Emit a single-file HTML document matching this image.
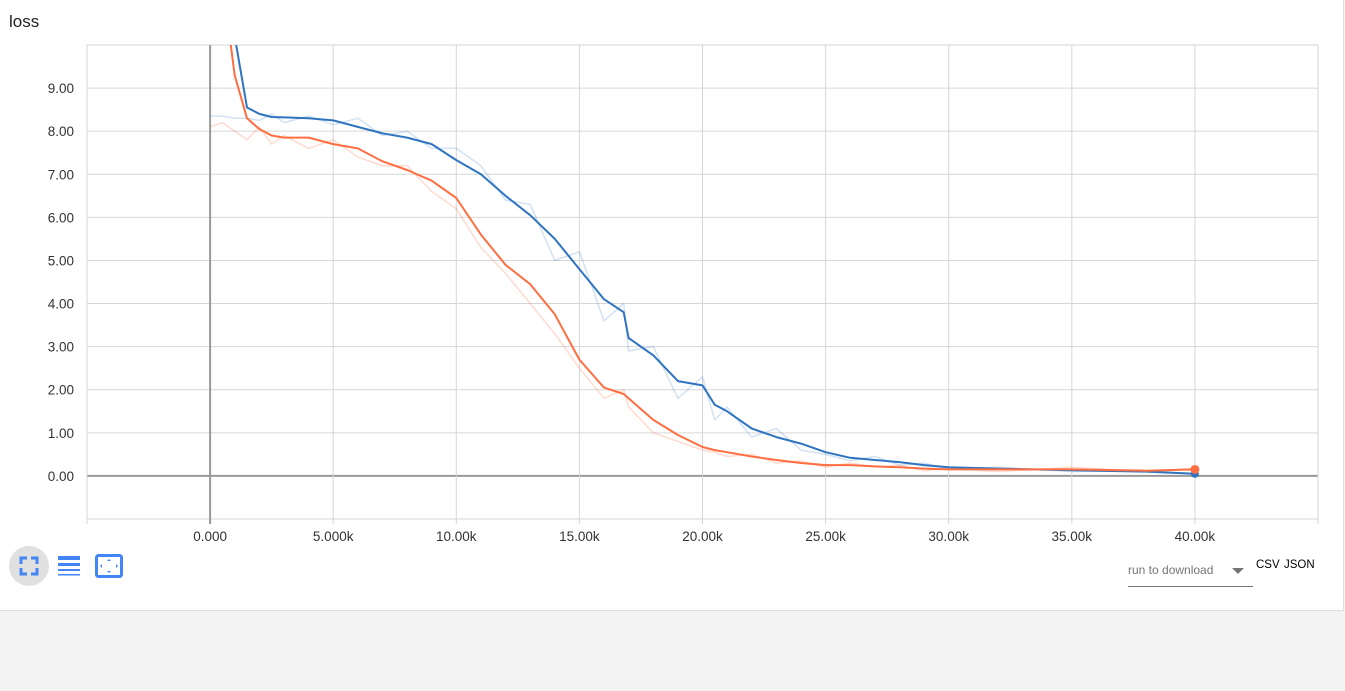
<!DOCTYPE html>
<html><head><meta charset="utf-8">
<style>
body{margin:0;width:1345px;height:691px;background:#f3f3f3;font-family:"Liberation Sans",sans-serif;overflow:hidden;position:relative}
#card{position:absolute;left:0;top:0;width:1343px;height:610px;background:#fff;border-right:1px solid #ddd;border-bottom:1px solid #ddd}
#title{position:absolute;left:9px;top:12px;font-size:17px;color:#212121}
svg text{font-family:"Liberation Sans",sans-serif;font-size:13.5px;fill:#333}
.btn{position:absolute}
</style></head><body>
<div id="card">
<div id="title">loss</div>
<svg id="chart" width="1345" height="610" style="position:absolute;left:0;top:0"></svg>
<div class="btn" style="left:9px;top:546px;width:40px;height:40px;border-radius:50%;background:#e0e0e0">
<svg width="40" height="40"><g stroke="#4285f4" stroke-width="3" fill="none"><path d="M12 18V12H18M22 12H28V18M28 22V28H22M18 28H12V22"/></g></svg></div>
<div class="btn" style="left:57px;top:555px;width:24px;height:22px">
<svg width="24" height="22"><rect x="1" y="1" width="22" height="4" fill="#4285f4"/><rect x="1" y="8" width="22" height="3" fill="#4285f4"/><rect x="1" y="14" width="22" height="2" fill="#4285f4"/><rect x="1" y="19" width="22" height="1.5" fill="#4285f4"/></svg></div>
<div class="btn" style="left:95px;top:554px;width:28px;height:24px">
<svg width="28" height="24"><rect x="1.5" y="1.5" width="25" height="21" rx="2" fill="none" stroke="#4285f4" stroke-width="3"/><path d="M14 5l-2 2h4zM14 19l-2-2h4zM5 12l2-2v4zM23 12l-2-2v4z" fill="#4285f4"/></svg></div>
<div style="position:absolute;left:1128px;top:563px;width:125px;height:23px;border-bottom:1px solid #757575;font-size:12px;color:#757575">run to download<span style="position:absolute;left:104px;top:5px;width:0;height:0;border-left:6px solid transparent;border-right:6px solid transparent;border-top:6px solid #757575"></span></div>
<div style="position:absolute;left:1256px;top:559px;font-size:11.5px;color:#000">CSV</div>
<div style="position:absolute;left:1284px;top:559px;font-size:11.5px;color:#000">JSON</div>
</div>
<script>
const steps=[0,500,1000,1500,2000,2500,3000,4000,5000,6000,7000,8000,9000,10000,11000,12000,13000,14000,15000,16000,16800,17000,18000,19000,20000,20500,21000,22000,23000,24000,25000,26000,27000,28000,29000,30000,32000,35000,38000,40000];
const blueSmooth=[14,12,10.2,8.55,8.4,8.33,8.32,8.3,8.25,8.1,7.95,7.85,7.7,7.33,7.0,6.5,6.05,5.5,4.8,4.1,3.8,3.2,2.8,2.2,2.1,1.65,1.5,1.1,0.9,0.75,0.55,0.42,0.37,0.32,0.25,0.2,0.17,0.13,0.1,0.05];
const orangeSmooth=[14,11.5,9.3,8.3,8.05,7.9,7.85,7.85,7.7,7.6,7.3,7.1,6.85,6.45,5.6,4.9,4.45,3.75,2.7,2.05,1.9,1.8,1.3,0.95,0.67,0.6,0.55,0.45,0.37,0.3,0.25,0.25,0.22,0.2,0.17,0.15,0.15,0.15,0.12,0.15];
const blueRaw=[8.35,8.35,8.3,8.3,8.25,8.4,8.2,8.35,8.15,8.3,7.9,8.0,7.6,7.6,7.2,6.4,6.3,5.0,5.2,3.6,4.0,2.9,3.0,1.8,2.3,1.3,1.6,0.9,1.1,0.6,0.5,0.35,0.45,0.25,0.3,0.15,0.2,0.1,0.12,0.05];
const orangeRaw=[8.1,8.2,8.0,7.8,8.1,7.7,7.9,7.6,7.8,7.4,7.2,7.2,6.6,6.2,5.3,4.7,4.0,3.3,2.5,1.8,2.0,1.6,1.0,0.8,0.6,0.55,0.45,0.5,0.3,0.35,0.2,0.3,0.2,0.25,0.12,0.18,0.1,0.2,0.1,0.18];
const yTicks=[0,1,2,3,4,5,6,7,8,9];
const yLabels=["0.00","1.00","2.00","3.00","4.00","5.00","6.00","7.00","8.00","9.00"];
const xTicks=[-5000,0,5000,10000,15000,20000,25000,30000,35000,40000,45000];
const xLabels=["","0.000","5.000k","10.00k","15.00k","20.00k","25.00k","30.00k","35.00k","40.00k",""];
const X0=87,X1=1318,Y0=45,Y1=519;
const xs=v=>X0+(v+5000)/50000*(X1-X0);
const ys=v=>Y1-(v+1)/11*(Y1-Y0);
const svg=document.getElementById('chart');const NS='http://www.w3.org/2000/svg';
function mk(t,a,p){const e=document.createElementNS(NS,t);for(const k in a)e.setAttribute(k,a[k]);(p||svg).appendChild(e);return e;}
const defs=mk('defs',{});const cp=mk('clipPath',{id:'clip'},defs);mk('rect',{x:X0,y:Y0,width:X1-X0,height:Y1-Y0},cp);
yTicks.forEach((v,i)=>{
const l=mk('line',{x1:X0,x2:X1,y1:ys(v),y2:ys(v),stroke:v===0?'#999':'#d6d6d6','stroke-width':v===0?2:1});


const t=mk('text',{x:74,y:ys(v)+5,'text-anchor':'end'});t.textContent=yLabels[i];


});
mk('line',{x1:X0,x2:X1,y1:Y0,y2:Y0,stroke:'#d6d6d6'});
mk('line',{x1:X0,x2:X1,y1:Y1,y2:Y1,stroke:'#d6d6d6'});
xTicks.forEach((v,i)=>{
const l=mk('line',{x1:xs(v),x2:xs(v),y1:Y0,y2:Y1+5,stroke:v===0?'#999':'#d6d6d6','stroke-width':v===0?2:1});


const t=mk('text',{x:xs(v),y:541,'text-anchor':'middle'});t.textContent=xLabels[i];


});
const g=mk('g',{'clip-path':'url(#clip)'});
function line(vals,col,w,op,name){const d=vals.map((v,i)=>(i?'L':'M')+xs(steps[i]).toFixed(1)+' '+ys(v).toFixed(1)).join('');
const p=mk('path',{d:d,fill:'none',stroke:col,'stroke-width':w,opacity:op,'stroke-linejoin':'round'},g);

}
line(blueRaw,'#1f6fc2',1.5,0.2,'blue-raw-line');
line(orangeRaw,'#ff7043',1.5,0.25,'orange-raw-line');
line(blueSmooth,'#2f74c0',2,1,'blue-smoothed-line');
line(orangeSmooth,'#ff6e40',2,1,'orange-smoothed-line');
const n=steps.length-1;
const c1=mk('circle',{cx:xs(steps[n]),cy:ys(blueSmooth[n]),r:4,fill:'#2f74c0'});


const c2=mk('circle',{cx:xs(steps[n]),cy:ys(orangeSmooth[n]),r:4.5,fill:'#ff6e40'});


</script>
</body></html>
